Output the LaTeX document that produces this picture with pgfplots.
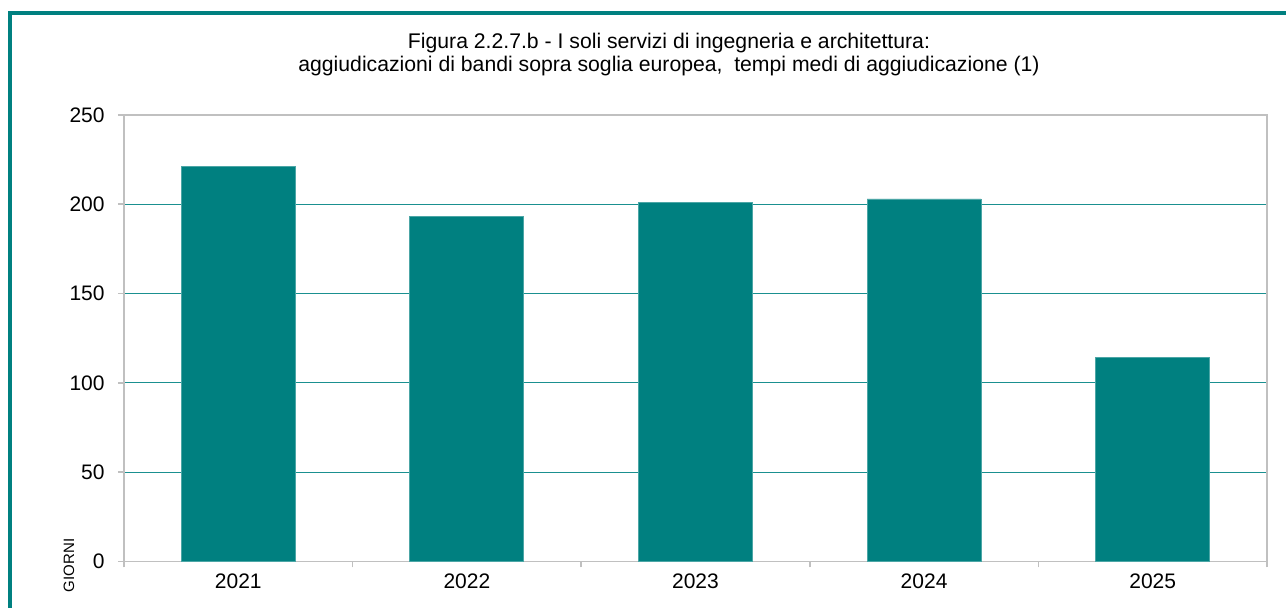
\documentclass[border=0pt]{standalone}
\usepackage{fontspec}
\setmainfont{Liberation Sans}
\usepackage{pgfplots}
\pgfplotsset{compat=1.18}
\definecolor{tealbar}{HTML}{008080}
\definecolor{gridteal}{HTML}{1A9090}
\definecolor{axgray}{HTML}{C0C0C0}
\begin{document}
\begin{tikzpicture}
\useasboundingbox (0pt,0pt) rectangle (643pt,304pt);
\draw[tealbar, line width=1.6pt] (5pt,0pt) -- (5pt,297.5pt) -- (643pt,297.5pt);
\node[font=\fontsize{10.6}{11.5}\selectfont, align=center] at (334.5pt,276.5pt) {Figura 2.2.7.b - I soli servizi di ingegneria e architettura:\\aggiudicazioni di bandi sopra soglia europea,\ \ tempi medi di aggiudicazione (1)};
\node[font=\fontsize{7.5}{9}\selectfont, rotate=90] at (34.5pt,21.25pt) {GIORNI};
\begin{axis}[
  at={(62pt,23.25pt)}, anchor=south west,
  scale only axis, width=571.5pt, height=223.25pt,
  xmin=-0.5, xmax=4.5, ymin=0, ymax=250,
  ytick={0,50,100,150,200,250},
  xtick={0,1,2,3,4},
  xticklabels={2021,2022,2023,2024,2025},
  minor xtick={-0.5,0.5,1.5,2.5,3.5,4.5},
  xtick pos=bottom, ytick pos=left,
  major x tick style={draw=none},
  minor x tick style={axgray, line width=0.8pt},
  minor tick length=3pt,
  major tick length=3pt,
  tick align=outside,
  y tick style={axgray, line width=0.8pt},
  ymajorgrids, major grid style={gridteal, line width=0.6pt},
  axis line style={axgray, line width=0.9pt},
  /pgf/number format/assume math mode=true,
  tick label style={font=\fontsize{10.5}{12}\selectfont},
  yticklabel style={inner sep=0pt, xshift=-6.5pt},
  xticklabel style={inner sep=0pt, yshift=-3.2pt},
]
\addplot[ybar, bar width=57pt, fill=tealbar, draw=tealbar!70, line width=0.4pt]
  coordinates {(0,221) (1,193) (2,201) (3,203) (4,114)};
\end{axis}
\end{tikzpicture}
\end{document}
